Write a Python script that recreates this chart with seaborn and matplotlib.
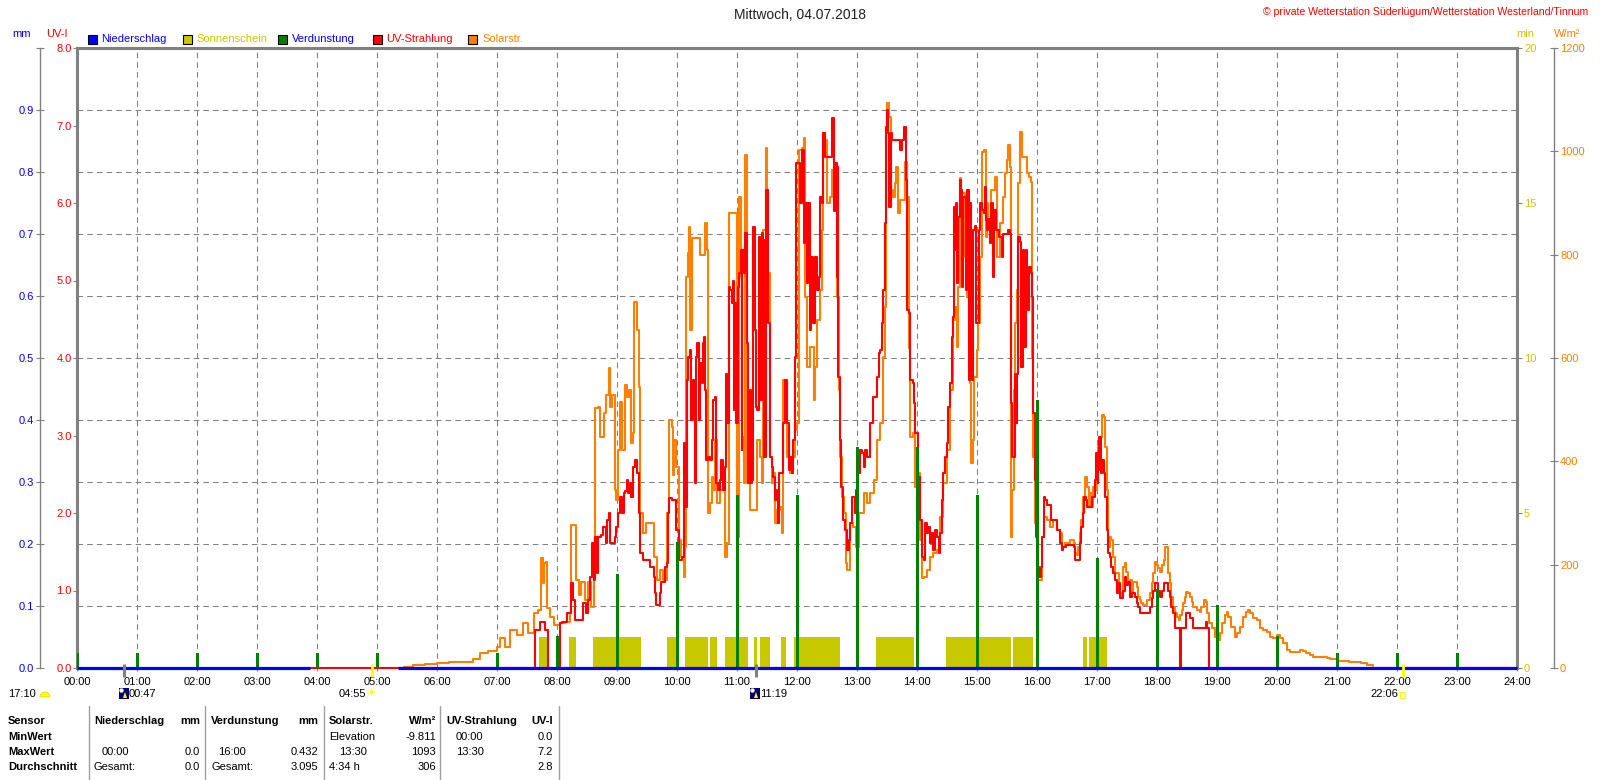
import numpy as np
import matplotlib
matplotlib.use("Agg")
import matplotlib.pyplot as plt
import matplotlib.transforms as mtransforms
from matplotlib.patches import Rectangle, Wedge, Polygon, Circle
from matplotlib.lines import Line2D
import seaborn as sns

# ---------------- data ----------------
hours = list(range(25))
hour_labels = [f"{h:02d}:00" for h in hours]

# Solar radiation W/m^2 (time in hours, value)
solar_points = [
    (5.35, 0), (5.45, 2), (5.6, 5), (5.8, 8), (6.0, 9), (6.2, 11), (6.45, 12), (6.6, 18), (6.72, 30),
    (6.85, 33), (7.0, 41), (7.05, 58), (7.13, 41), (7.22, 73), (7.33, 64), (7.44, 87), (7.52, 68),
    (7.61, 106), (7.69, 112), (7.73, 213), (7.76, 164), (7.78, 203), (7.82, 205), (7.84, 116),
    (7.88, 99), (7.95, 83), (8.05, 87), (8.13, 89), (8.21, 106), (8.23, 277), (8.30, 277), (8.32, 170),
    (8.36, 141), (8.40, 166), (8.47, 132), (8.52, 166), (8.57, 118), (8.61, 242), (8.64, 503),
    (8.69, 505), (8.72, 447), (8.78, 493), (8.82, 528), (8.86, 580), (8.88, 505), (8.91, 528),
    (8.95, 528), (8.97, 344), (8.99, 325), (9.01, 422), (9.05, 515), (9.09, 422), (9.13, 548),
    (9.16, 524), (9.20, 538), (9.24, 435), (9.27, 455), (9.29, 708), (9.33, 654), (9.37, 544),
    (9.39, 300), (9.44, 261), (9.49, 281), (9.55, 281), (9.61, 215), (9.66, 170), (9.72, 190),
    (9.77, 170), (9.83, 300), (9.87, 480), (9.91, 466), (9.93, 373), (9.95, 441), (9.99, 389),
    (10.03, 248), (10.06, 215), (10.11, 176), (10.13, 234), (10.15, 757), (10.18, 803), (10.20, 853),
    (10.22, 654), (10.25, 832), (10.35, 832), (10.38, 799), (10.46, 799), (10.47, 861), (10.50, 809),
    (10.52, 300), (10.55, 319), (10.58, 370), (10.60, 344), (10.63, 441), (10.66, 319), (10.72, 344),
    (10.78, 358), (10.80, 215), (10.83, 242), (10.87, 880), (10.97, 880), (11.0, 254), (11.03, 912),
    (11.06, 757), (11.08, 447), (11.11, 358), (11.14, 993), (11.17, 358), (11.22, 306), (11.30, 306),
    (11.33, 441), (11.38, 408), (11.41, 358), (11.44, 848), (11.48, 1006), (11.50, 925), (11.52, 764),
    (11.55, 408), (11.58, 358), (11.60, 377), (11.63, 281), (11.66, 306), (11.72, 312), (11.75, 261),
    (11.77, 557), (11.80, 551), (11.83, 408), (11.89, 377), (11.94, 408), (11.97, 461), (12.0, 474),
    (12.03, 571), (12.04, 1002), (12.08, 1006), (12.11, 1025), (12.14, 718), (12.17, 582), (12.22, 621),
    (12.28, 518), (12.30, 582), (12.33, 673), (12.38, 731), (12.42, 848), (12.44, 1035), (12.47, 1022),
    (12.50, 900), (12.55, 912), (12.58, 964), (12.61, 892), (12.66, 718), (12.70, 538), (12.72, 408),
    (12.75, 331), (12.79, 300), (12.82, 203), (12.84, 190), (12.88, 281), (12.94, 273), (12.99, 234),
    (13.03, 300), (13.08, 300), (13.11, 338), (13.16, 319), (13.22, 338), (13.28, 364), (13.33, 441),
    (13.39, 474), (13.43, 602), (13.47, 699), (13.49, 1047), (13.50, 1093), (13.54, 1066), (13.57, 925),
    (13.60, 912), (13.63, 938), (13.65, 969), (13.68, 880), (13.72, 905), (13.77, 905), (13.80, 979),
    (13.84, 912), (13.86, 620), (13.88, 447), (13.94, 455), (13.97, 350), (14.02, 377), (14.05, 248),
    (14.08, 174), (14.11, 176), (14.16, 190), (14.22, 215), (14.27, 222), (14.33, 228), (14.38, 292),
    (14.44, 358), (14.50, 422), (14.55, 538), (14.60, 673), (14.63, 699), (14.66, 621), (14.69, 737),
    (14.72, 948), (14.74, 919), (14.77, 919), (14.80, 795), (14.83, 718), (14.88, 551), (14.90, 397),
    (14.93, 441), (14.95, 563), (15.0, 615), (15.02, 667), (15.05, 795), (15.08, 998), (15.12, 1002),
    (15.15, 834), (15.17, 900), (15.19, 867), (15.22, 848), (15.24, 925), (15.30, 950), (15.33, 795),
    (15.36, 795), (15.38, 861), (15.44, 912), (15.47, 958), (15.50, 983), (15.52, 1012), (15.55, 969),
    (15.57, 254), (15.58, 344), (15.61, 538), (15.63, 667), (15.66, 731), (15.69, 938), (15.71, 1037),
    (15.75, 989), (15.80, 989), (15.83, 958), (15.86, 950), (15.90, 940), (15.91, 602), (15.94, 408),
    (15.97, 281), (16.01, 170), (16.05, 170), (16.08, 254), (16.11, 292), (16.16, 286), (16.22, 273),
    (16.27, 286), (16.33, 267), (16.38, 261), (16.41, 234), (16.47, 242), (16.55, 248), (16.61, 242),
    (16.63, 222), (16.66, 219), (16.69, 234), (16.72, 261), (16.74, 286), (16.77, 331), (16.80, 370),
    (16.83, 350), (16.86, 312), (16.88, 338), (16.91, 312), (16.94, 350), (16.97, 344), (17.0, 397),
    (17.02, 428), (17.05, 447), (17.08, 490), (17.11, 486), (17.13, 428), (17.16, 344), (17.19, 234),
    (17.22, 254), (17.24, 248), (17.27, 215), (17.30, 184), (17.36, 157), (17.38, 145), (17.41, 137),
    (17.44, 195), (17.47, 203), (17.49, 186), (17.52, 164), (17.55, 170), (17.58, 147), (17.60, 166),
    (17.66, 157), (17.69, 137), (17.72, 132), (17.74, 126), (17.77, 122), (17.83, 132), (17.88, 145),
    (17.91, 164), (17.94, 184), (17.97, 205), (18.0, 199), (18.02, 193), (18.05, 186), (18.08, 199),
    (18.11, 209), (18.13, 234), (18.16, 234), (18.19, 184), (18.22, 164), (18.24, 137), (18.27, 118),
    (18.30, 106), (18.33, 99), (18.36, 93), (18.38, 103), (18.41, 112), (18.44, 126), (18.47, 137),
    (18.49, 147), (18.52, 145), (18.55, 137), (18.58, 128), (18.60, 118), (18.66, 112), (18.72, 108),
    (18.74, 118), (18.78, 132), (18.82, 128), (18.84, 106), (18.87, 87), (18.91, 77), (18.97, 60),
    (19.02, 54), (19.05, 68), (19.08, 87), (19.13, 103), (19.16, 108), (19.19, 99), (19.24, 79),
    (19.30, 60), (19.33, 68), (19.38, 79), (19.44, 99), (19.49, 108), (19.52, 112), (19.55, 106),
    (19.60, 97), (19.66, 93), (19.72, 77), (19.77, 73), (19.83, 70), (19.88, 60), (19.94, 58),
    (20.0, 64), (20.05, 58), (20.10, 48), (20.16, 35), (20.22, 31), (20.33, 31), (20.38, 35),
    (20.44, 33), (20.49, 29), (20.55, 25), (20.60, 21), (20.72, 21), (20.83, 19), (20.88, 17),
    (21.0, 14), (21.2, 12), (21.4, 9), (21.5, 6), (21.6, 3),
]

# UV index (time in hours, value)
uv_points = [
    (3.88, 0), (7.63, 0), (7.63, 0.49), (7.71, 0.6), (7.80, 0.49), (7.85, 0), (8.05, 0), (8.05, 0.58),
    (8.08, 0.6), (8.17, 0.71), (8.23, 1.1), (8.27, 0.88), (8.30, 0.62), (8.44, 0.84), (8.49, 0.71),
    (8.52, 0.88), (8.55, 1.17), (8.58, 1.61), (8.61, 1.14), (8.63, 1.69), (8.66, 1.22), (8.69, 1.69),
    (8.74, 1.71), (8.77, 1.82), (8.82, 1.61), (8.83, 1.91), (8.86, 2.0), (8.88, 1.61), (8.94, 1.61),
    (8.97, 1.69), (8.99, 1.82), (9.02, 2.0), (9.05, 2.21), (9.08, 2.0), (9.11, 2.26), (9.13, 2.28),
    (9.16, 2.43), (9.19, 2.26), (9.22, 2.39), (9.24, 2.21), (9.27, 2.6), (9.30, 2.68), (9.33, 2.52),
    (9.36, 2.52), (9.37, 2.0), (9.39, 1.48), (9.44, 1.39), (9.52, 1.39), (9.55, 1.3), (9.6, 1.3),
    (9.61, 1.17), (9.63, 0.97), (9.65, 0.81), (9.69, 0.81), (9.72, 0.97), (9.74, 1.11), (9.8, 1.3),
    (9.83, 1.35), (9.855, 2.0), (9.87, 2.2), (9.91, 2.17), (9.97, 2.17), (9.99, 1.78), (10.04, 1.4),
    (10.09, 1.43), (10.12, 2.9), (10.14, 2.08), (10.16, 3.72), (10.19, 4.01), (10.22, 4.1), (10.24, 3.2),
    (10.26, 3.72), (10.28, 3.55), (10.30, 2.39), (10.32, 4.01), (10.34, 4.19), (10.36, 3.2), (10.38, 3.93),
    (10.41, 3.68), (10.43, 4.19), (10.45, 4.27), (10.47, 3.59), (10.49, 2.68), (10.52, 2.72), (10.55, 2.68),
    (10.58, 2.94), (10.60, 3.46), (10.63, 3.5), (10.65, 2.39), (10.69, 2.3), (10.72, 2.43), (10.74, 2.68),
    (10.77, 2.3), (10.80, 2.59), (10.82, 3.8), (10.84, 3.16), (10.86, 3.29), (10.87, 4.92), (10.89, 4.88),
    (10.91, 4.71), (10.93, 5.0), (10.95, 3.33), (10.97, 4.71), (10.99, 3.16), (11.01, 4.92), (11.04, 5.1),
    (11.06, 5.39), (11.08, 2.81), (11.09, 5.39), (11.12, 5.1), (11.14, 5.61), (11.16, 4.19), (11.18, 2.39),
    (11.21, 3.59), (11.23, 2.39), (11.25, 2.43), (11.27, 5.69), (11.30, 4.36), (11.32, 3.37), (11.34, 3.33),
    (11.36, 5.56), (11.38, 3.46), (11.41, 5.61), (11.43, 5.52), (11.45, 2.72), (11.48, 6.17), (11.50, 6.17),
    (11.52, 4.45), (11.55, 2.72), (11.58, 2.59), (11.60, 2.46), (11.63, 2.17), (11.66, 2.3), (11.69, 1.87),
    (11.70, 2.52), (11.74, 2.52), (11.77, 3.16), (11.80, 3.72), (11.83, 3.16), (11.86, 2.55), (11.88, 2.72),
    (11.91, 2.52), (11.94, 2.94), (11.97, 4.01), (11.98, 4.71), (11.99, 6.51), (12.02, 6.51), (12.05, 6.0),
    (12.08, 6.68), (12.11, 5.48), (12.13, 6.0), (12.16, 4.97), (12.19, 6.0), (12.22, 4.36), (12.24, 5.3),
    (12.27, 4.45), (12.30, 5.3), (12.33, 4.88), (12.36, 5.05), (12.38, 6.08), (12.41, 6.0), (12.44, 6.9),
    (12.47, 6.6), (12.55, 6.6), (12.58, 6.81), (12.59, 7.1), (12.62, 5.9), (12.64, 6.51), (12.66, 5.05),
    (12.68, 6.46), (12.69, 3.76), (12.72, 2.94), (12.74, 2.34), (12.77, 1.91), (12.80, 1.78), (12.83, 1.52),
    (12.86, 1.65), (12.88, 1.87), (12.91, 2.21), (12.94, 2.21), (12.97, 2.0), (12.99, 2.3), (13.02, 2.52),
    (13.05, 2.81), (13.08, 2.78), (13.11, 2.59), (13.13, 2.81), (13.16, 2.72), (13.22, 3.16), (13.27, 3.5),
    (13.33, 3.76), (13.36, 4.06), (13.38, 4.1), (13.41, 4.45), (13.44, 4.88), (13.47, 5.74), (13.48, 6.98),
    (13.50, 7.2), (13.52, 6.9), (13.54, 5.95), (13.56, 6.9), (13.58, 6.81), (13.69, 6.81), (13.72, 6.68),
    (13.75, 6.81), (13.78, 6.98), (13.82, 6.3), (13.84, 4.62), (13.87, 4.58), (13.89, 3.72), (13.93, 3.68),
    (13.95, 3.42), (13.97, 3.03), (14.02, 2.46), (14.05, 1.91), (14.08, 1.43), (14.11, 1.39), (14.13, 1.87),
    (14.16, 1.74), (14.19, 1.82), (14.22, 1.61), (14.24, 1.74), (14.27, 1.52), (14.30, 1.78), (14.33, 1.69),
    (14.36, 1.48), (14.38, 1.74), (14.41, 2.17), (14.44, 2.52), (14.47, 2.72), (14.50, 2.9), (14.52, 3.37),
    (14.55, 3.68), (14.58, 4.27), (14.60, 4.53), (14.61, 5.39), (14.62, 5.95), (14.64, 5.39), (14.65, 6.0),
    (14.67, 4.97), (14.69, 5.82), (14.71, 6.3), (14.73, 6.17), (14.75, 4.92), (14.77, 6.08), (14.80, 6.08),
    (14.82, 4.88), (14.84, 6.17), (14.86, 3.72), (14.88, 6.0), (14.90, 3.76), (14.92, 3.72), (14.94, 5.65),
    (14.97, 5.7), (14.98, 4.45), (15.01, 4.45), (15.03, 5.65), (15.05, 6.0), (15.08, 5.91), (15.11, 5.87),
    (15.13, 6.21), (15.15, 5.78), (15.17, 5.65), (15.19, 5.8), (15.22, 5.48), (15.24, 6.0), (15.26, 5.05),
    (15.28, 5.91), (15.31, 5.65), (15.36, 5.56), (15.41, 5.3), (15.44, 5.6), (15.49, 5.6), (15.52, 5.65),
    (15.55, 5.6), (15.56, 3.42), (15.58, 2.72), (15.61, 2.72), (15.63, 3.8), (15.66, 3.16), (15.67, 3.8),
    (15.69, 5.56), (15.72, 5.5), (15.73, 3.88), (15.76, 5.39), (15.78, 4.14), (15.81, 5.39), (15.83, 5.1),
    (15.85, 4.62), (15.87, 5.17), (15.90, 5.1), (15.91, 4.79), (15.93, 4.01), (15.94, 3.29), (15.97, 2.43),
    (15.99, 1.69), (16.02, 1.3), (16.04, 1.17), (16.06, 1.3), (16.08, 1.69), (16.11, 2.21), (16.13, 2.17),
    (16.16, 2.1), (16.22, 2.1), (16.24, 1.91), (16.30, 1.91), (16.33, 1.78), (16.36, 1.78), (16.38, 1.61),
    (16.41, 1.52), (16.44, 1.56), (16.49, 1.59), (16.61, 1.56), (16.63, 1.39), (16.69, 1.39), (16.72, 1.61),
    (16.74, 1.82), (16.77, 2.0), (16.79, 2.21), (16.82, 2.17), (16.84, 2.08), (16.88, 2.08), (16.91, 2.21),
    (16.94, 2.21), (16.97, 2.43), (16.98, 2.77), (17.01, 2.39), (17.02, 2.55), (17.04, 2.98), (17.06, 2.52),
    (17.08, 2.68), (17.11, 2.52), (17.13, 2.21), (17.16, 1.78), (17.19, 1.48), (17.22, 1.43), (17.24, 1.3),
    (17.27, 1.23), (17.30, 1.14), (17.33, 0.97), (17.36, 1.1), (17.38, 0.9), (17.41, 0.9), (17.44, 1.0),
    (17.47, 1.17), (17.49, 1.07), (17.52, 1.11), (17.55, 0.92), (17.58, 0.97), (17.63, 0.92), (17.66, 0.84),
    (17.69, 0.79), (17.72, 0.71), (17.86, 0.71), (17.88, 0.79), (17.91, 0.9), (17.94, 1.0), (17.97, 1.1),
    (18.0, 1.1), (18.02, 1.0), (18.05, 0.92), (18.08, 1.0), (18.11, 1.1), (18.19, 1.0), (18.22, 0.92),
    (18.24, 0.79), (18.27, 0.71), (18.30, 0.52), (18.38, 0.52), (18.38, 0), (18.40, 0), (18.40, 0.52),
    (18.49, 0.71), (18.52, 0.71), (18.55, 0.64), (18.60, 0.52), (18.81, 0.52), (18.82, 0.6), (18.84, 0.52),
    (18.87, 0.52), (18.87, 0), (24.0, 0),
]

# Evaporation (Verdunstung) mm per hour
evap_hour = list(range(24))
evap_mm = [0.025, 0.025, 0.025, 0.025, 0.025, 0.025, 0.0, 0.025, 0.051, 0.152, 0.203, 0.279,
           0.279, 0.356, 0.356, 0.279, 0.432, 0.178, 0.127, 0.102, 0.051, 0.025, 0.025, 0.025]

# Precipitation (Niederschlag) mm - zero all day, no data 03:53-05:21
precip_t = [0.0, 3.88, 3.88, 5.35, 24.0]
precip_mm = [0.0, 0.0, np.nan, 0.0, 0.0]

# Sunshine (Sonnenschein) minutes per minute
sun_start = [7.705, 8.205, 8.60, 9.84, 10.13, 10.55, 10.80, 11.28, 11.39, 11.74, 11.95, 13.31, 14.49, 15.60, 16.76, 16.87]
sun_end = [7.828, 8.317, 9.40, 10.0, 10.51, 10.67, 11.19, 11.34, 11.55, 11.81, 12.72, 13.95, 15.57, 15.93, 16.84, 17.16]
sun_min = [1.0] * len(sun_start)

# Sun / moon events
moon_times = [0.783, 11.317]
sun_times = [4.917, 22.1]

uv_ticks = [0, 1, 2, 3, 4, 5, 6, 7, 8]
mm_ticks = [0.0, 0.1, 0.2, 0.3, 0.4, 0.5, 0.6, 0.7, 0.8, 0.9, 1.0]
min_ticks = [0, 5, 10, 15, 20]
w_ticks = [0, 200, 400, 600, 800, 1000, 1200]

solar_t = [p[0] for p in solar_points]
solar_w = [p[1] for p in solar_points]
uv_t = [p[0] for p in uv_points]
uv_i = [p[1] for p in uv_points]

# ---------------- style ----------------
sns.set_theme(style="white")
plt.rcParams['font.family'] = ['Liberation Sans', 'DejaVu Sans']
plt.rcParams['axes.unicode_minus'] = False

C_BLUE = '#0000FF'
C_OLIVE = '#C8C800'
C_GREEN = '#008000'
C_RED = '#FF0000'
C_ORANGE = '#FF8000'
C_GREY = '#808080'
FS = 8

FW, FH = 1600, 780
fig = plt.figure(figsize=(16, 7.8), dpi=100)
fig.patch.set_facecolor('white')
PIX = mtransforms.Affine2D().scale(1 / 100.0) + fig.dpi_scale_trans


def P(x, y):
    return (x, FH - y)


def ftext(x, y, s, **kw):
    kw.setdefault('fontsize', FS)
    kw.setdefault('va', 'center')
    fig.text(x / FW, 1 - y / FH, s, **kw)


L, R, T, B = 77, 1517, 48, 668
ax = fig.add_axes([L / FW, 1 - B / FH, (R - L) / FW, (B - T) / FH])
ax_sun = ax.twinx()
ax_w = ax.twinx()
ax_uv = ax.twinx()
ax_top = ax.twinx()

for a in (ax, ax_sun, ax_w, ax_uv, ax_top):
    for s in a.spines.values():
        s.set_visible(False)

# ---- base axes: mm axis + grid + x axis
ax.set_facecolor('white')
ax.set_xlim(0, 24)
ax.set_ylim(0, 1.0)
ax.set_xticks(hours)
ax.set_xticklabels(hour_labels)
ax.set_yticks(mm_ticks)
ax.set_yticklabels([f"{v:.1f}" for v in mm_ticks[:-1]] + [""])
ax.grid(True, which='major', axis='both', color=C_GREY, linestyle=(0, (5.3, 4)), linewidth=0.75)
ax.spines['left'].set_visible(True)
ax.spines['left'].set_position(('axes', -37 / 1440))
ax.spines['left'].set_color(C_GREY)
ax.spines['left'].set_linewidth(1.0)
ax.spines['top'].set_visible(True)
ax.spines['top'].set_color(C_GREY)
ax.spines['top'].set_linewidth(2.2)
ax.tick_params(axis='x', bottom=True, length=2.5, width=0.8, color=C_GREY, labelsize=FS,
               labelcolor='black', pad=4)
ax.tick_params(axis='y', left=True, right=False, direction='inout', length=5.8, width=0.8,
               color=C_GREY, labelsize=FS, labelcolor=C_BLUE, pad=1.5)

# ---- sunshine axes (min) at the right frame
ax_sun.set_ylim(0, 20)
ax_sun.yaxis.tick_right()
ax_sun.set_yticks(min_ticks)
ax_sun.set_yticklabels([str(v) for v in min_ticks])
ax_sun.spines['right'].set_visible(True)
ax_sun.spines['right'].set_color(C_GREY)
ax_sun.spines['right'].set_linewidth(2.2)
ax_sun.tick_params(axis='y', right=True, left=False, length=3.6, width=0.8, color=C_GREY,
                   labelsize=FS, labelcolor=C_OLIVE, pad=1.5)
ax_sun.bar(sun_start, sun_min, width=[e - s for s, e in zip(sun_start, sun_end)], align='edge',
           color=C_OLIVE, linewidth=0)

# ---- solar axes (W/m2) outer right
ax_w.set_ylim(0, 1200)
ax_w.yaxis.tick_right()
ax_w.set_yticks(w_ticks)
ax_w.set_yticklabels([str(v) for v in w_ticks])
ax_w.spines['right'].set_visible(True)
ax_w.spines['right'].set_position(('axes', 1 + 37 / 1440))
ax_w.spines['right'].set_color(C_GREY)
ax_w.spines['right'].set_linewidth(1.0)
ax_w.tick_params(axis='y', right=True, left=False, direction='inout', length=5.8, width=0.8,
                 color=C_GREY, labelsize=FS, labelcolor=C_ORANGE, pad=1.5)
sns.lineplot(x=solar_t, y=solar_w, ax=ax_w, color=C_ORANGE, linewidth=1.5,
             drawstyle='steps-post', estimator=None, sort=False)

# ---- UV axes at the left frame
ax_uv.set_ylim(0, 8)
ax_uv.yaxis.tick_left()
ax_uv.yaxis.set_label_position('left')
ax_uv.set_yticks(uv_ticks)
ax_uv.set_yticklabels([f"{v:.1f}" for v in uv_ticks])
ax_uv.spines['left'].set_visible(True)
ax_uv.spines['left'].set_color(C_GREY)
ax_uv.spines['left'].set_linewidth(2.2)
ax_uv.tick_params(axis='y', left=True, right=False, length=2.9, width=0.8, color=C_GREY,
                  labelsize=FS, labelcolor=C_RED, pad=0.8)
sns.lineplot(x=uv_t, y=uv_i, ax=ax_uv, color=C_RED, linewidth=1.5,
             drawstyle='steps-post', estimator=None, sort=False, clip_on=False)

# ---- top axes: evaporation bars, precipitation line, event ticks
ax_top.set_ylim(0, 1.0)
ax_top.set_yticks([])
ax_top.tick_params(axis='y', right=False, left=False, labelright=False)
ax_top.bar(evap_hour, evap_mm, width=0.05, color=C_GREEN, linewidth=0)
ax_top.plot(precip_t, precip_mm, color=C_BLUE, linewidth=2.3, clip_on=False, solid_capstyle='butt')
btr = mtransforms.blended_transform_factory(ax_top.transData, ax_top.transAxes)
ax_top.vlines(moon_times, -9 / 620, 4 / 620, transform=btr, colors=C_GREY, linewidth=2.2, clip_on=False)
ax_top.vlines(sun_times, -9 / 620, 4 / 620, transform=btr, colors='#FFFF00', linewidth=2.0, clip_on=False)

for a in (ax, ax_sun, ax_w, ax_uv, ax_top):
    a.set_xlim(0, 24)
    a.set_xlabel('')
    a.set_ylabel('')

# ---------------- texts ----------------
ftext(800, 15, "Mittwoch, 04.07.2018", ha='center', fontsize=10, color='#202020')
ftext(1588, 12, "\u00a9 private Wetterstation S\u00fcderl\u00fcgum/Wetterstation Westerland/Tinnum",
      ha='right', color=C_RED, fontsize=7.6)
ftext(22, 34, "mm", ha='center', color=C_BLUE)
ftext(57, 34, "UV-I", ha='center', color=C_RED)
ftext(1525, 34, "min", ha='center', color=C_OLIVE)
ftext(1567, 34, "W/m\u00b2", ha='center', color=C_ORANGE)

legend_items = [("Niederschlag", C_BLUE, C_BLUE, 87.5),
                ("Sonnenschein", C_OLIVE, C_OLIVE, 182.5),
                ("Verdunstung", C_GREEN, C_BLUE, 277.5),
                ("UV-Strahlung", C_RED, C_RED, 372.5),
                ("Solarstr.", C_ORANGE, C_ORANGE, 468)]
for name, fc, tc, x0 in legend_items:
    fig.add_artist(Rectangle(P(x0, 44), 9, 9, transform=PIX, facecolor=fc, edgecolor='black', linewidth=0.8))
    ftext(x0 + 14, 39, name, ha='left', color=tc)

# event labels below axis
ftext(8, 694, "17:10", ha='left', color='black')
fig.add_artist(Wedge(P(45, 697), 5, 0, 180, transform=PIX, facecolor='#FFFF00', edgecolor='#E8D000', linewidth=0.5))
for tx, label in ((124, "00:47"), (755, "11:19")):
    fig.add_artist(Rectangle(P(tx - 5, 699), 10, 11, transform=PIX, facecolor='#000070', edgecolor='none'))
    fig.add_artist(Circle(P(tx - 2.5, 690.5), 2.2, transform=PIX, facecolor='white', edgecolor='none'))
    fig.add_artist(Polygon([P(tx - 1, 698), P(tx + 3, 698), P(tx + 1, 692)], closed=True, transform=PIX,
                           facecolor='#FFFF00', edgecolor='none'))
    ftext(tx + 5, 694, label, ha='left', color='black')
ftext(366, 694, "04:55", ha='right', color='black')
ftext(372, 694, "\u2600", ha='center', color='#FFFF00', fontsize=9, family=['DejaVu Sans'])
ftext(1398, 694, "22:06", ha='right', color='black')
fig.add_artist(Rectangle(P(1400, 698), 5, 6, transform=PIX, facecolor='none', edgecolor='#FFFF00', linewidth=1.0))

# ---------------- bottom table ----------------
for xs in [89, 205, 324, 440, 559]:
    fig.add_artist(Line2D([xs, xs], [FH - 706, 0], transform=PIX, color='#A0A0A0', linewidth=1.0))

row_y = [721, 737, 752, 767]
row_labels = ["Sensor", "MinWert", "MaxWert", "Durchschnitt"]
for y, lab in zip(row_y, row_labels):
    ftext(8, y, lab, ha='left', fontweight='bold', color='black')

header = [(94, "Niederschlag", 'left'), (200, "mm", 'right'), (211, "Verdunstung", 'left'),
          (318, "mm", 'right'), (329, "Solarstr.", 'left'), (436, "W/m\u00b2", 'right'),
          (446, "UV-Strahlung", 'left'), (553, "UV-I", 'right')]
for x, s, ha in header:
    ftext(x, row_y[0], s, ha=ha, fontweight='bold', color='black')

cells = [
    (1, 329, "Elevation", 'left'), (1, 436, "-9.811", 'right'), (1, 456, "00:00", 'left'), (1, 553, "0.0", 'right'),
    (2, 102, "00:00", 'left'), (2, 200, "0.0", 'right'), (2, 218, "16:00", 'left'), (2, 318, "0.432", 'right'),
    (2, 339, "13:30", 'left'), (2, 436, "1093", 'right'), (2, 456, "13:30", 'left'), (2, 553, "7.2", 'right'),
    (3, 94, "Gesamt:", 'left'), (3, 200, "0.0", 'right'), (3, 211, "Gesamt:", 'left'), (3, 318, "3.095", 'right'),
    (3, 329, "4:34 h", 'left'), (3, 436, "306", 'right'), (3, 553, "2.8", 'right'),
]
for r, x, s, ha in cells:
    ftext(x, row_y[r], s, ha=ha, color='black')

fig.savefig("out.png", dpi=100, facecolor='white')
